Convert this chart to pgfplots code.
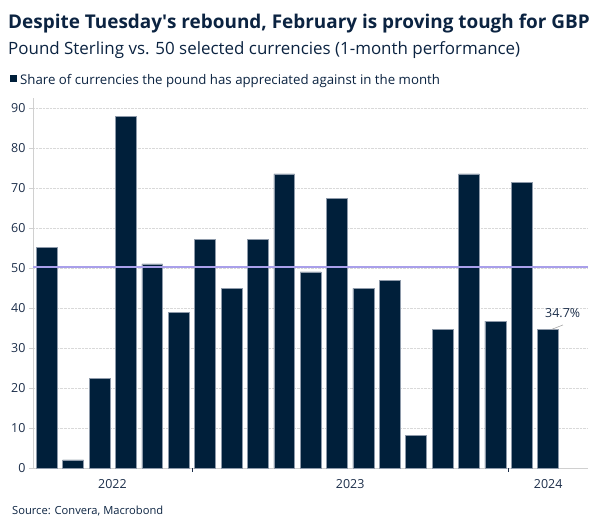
\documentclass[border=0pt]{standalone}
\usepackage{fontspec}
\setmainfont{Open Sans}
\usepackage{pgfplots}
\pgfplotsset{compat=1.18}
\usetikzlibrary{calc}

\definecolor{navy}{HTML}{001F3A}
\definecolor{titlec}{HTML}{0B2341}
\definecolor{textc}{HTML}{1C2E4A}
\definecolor{lav}{HTML}{A99FEA}
\definecolor{axisc}{HTML}{D0D0D0}
\definecolor{edgec}{HTML}{8E9AAA}

% share of 49 currencies the pound rose against, Jul 2022 - Feb 2024
\pgfplotstableread{
x  share
1  55.1
2  2.0
3  22.4
4  87.8
5  51.0
6  38.8
7  57.1
8  44.9
9  57.1
10 73.5
11 49.0
12 67.3
13 44.9
14 46.9
15 8.2
16 34.7
17 73.5
18 36.7
19 71.4
20 34.7
}\gbp

\begin{document}
\begin{tikzpicture}[x=1bp,y=1bp]
\begin{axis}[
    name=ax,
    scale only axis, width=555bp, height=370bp,
    ybar, bar width=0.79,
    xmin=0.48, xmax=21.51, ymin=0, ymax=92.5,
    axis lines*=left,
    axis line style={axisc, line width=0.8bp},
    ytick={0,10,...,90},
    ymajorgrids, grid style={densely dotted, gray!30, line width=0.6bp},
    xtick={3.49,12.5,20.0}, xticklabels={2022,2023,2024},
    x tick style={draw=none},
    y tick style={axisc, line width=0.8bp},
    tick align=outside, major tick length=4bp,
    extra x ticks={6.5,18.5}, extra x tick labels={},
    extra x tick style={x tick style={draw=textc, line width=0.6bp}, major tick length=4bp},
    tick label style={font=\fontsize{12.5}{14}\selectfont, text=textc},
    /pgf/number format/assume math mode=true,
    xticklabel style={yshift=-4bp},
    clip=false,
  ]
  \addplot[fill=navy, draw=edgec, line width=0.6bp] table[x=x, y=share] {\gbp};
  \draw[lav, line width=1.8bp] (axis cs:0.48,50.2) -- (axis cs:21.51,50.2);
  \draw[gray!70, line width=0.6bp] (axis cs:20.15,34.7) -- (axis cs:20.56,35.75);
  \node[anchor=base, inner sep=0, text=textc, font=\fontsize{12.5}{14}\selectfont]
    at (axis cs:20.55,37.5) {34.7\%};
\end{axis}

\coordinate (O) at ($(ax.south west)+(-33,-61)$);
\begin{scope}[shift={(O)}]
\node[anchor=base west, inner sep=0, text=titlec,
  font=\bfseries\fontsize{19}{22}\selectfont] at (8,500)
  {Despite Tuesday\textquotesingle s rebound, February is proving tough for GBP};
\node[anchor=base west, inner sep=0, text=titlec,
  font=\fontsize{17}{20}\selectfont] at (8,474)
  {Pound Sterling vs. 50 selected currencies (1-month performance)};
\fill[navy] (10,447) rectangle (17,454);
\node[anchor=base west, inner sep=0, text=titlec,
  font=\fontsize{13.3}{15}\selectfont] at (20,444)
  {Share of currencies the pound has appreciated against in the month};
\node[anchor=base west, inner sep=0, text=titlec,
  font=\fontsize{11.2}{13}\selectfont] at (12,14)
  {Source: Convera, Macrobond};
\end{scope}
\pgfresetboundingbox
\useasboundingbox (O) rectangle ($(O)+(604,529)$);
\end{tikzpicture}
\end{document}
